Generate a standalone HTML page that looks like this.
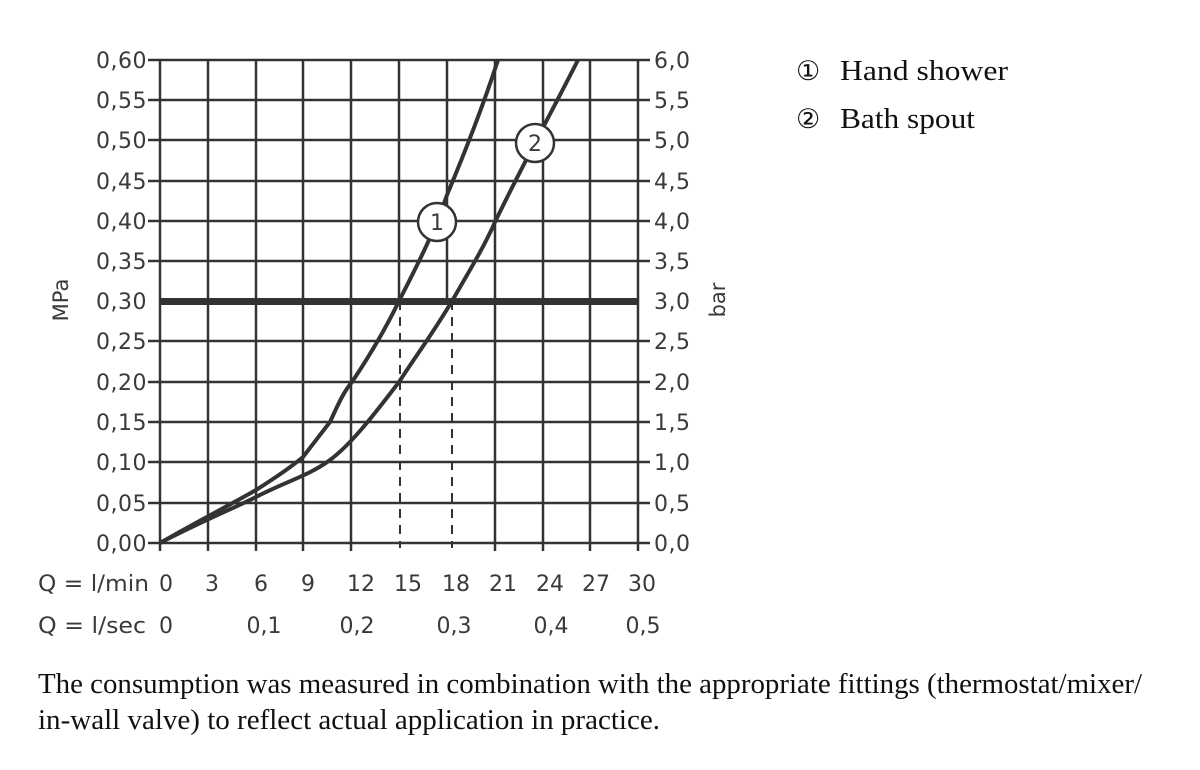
<!DOCTYPE html>
<html><head><meta charset="utf-8"><style>
body{margin:0;background:#fff;width:1200px;height:765px;overflow:hidden}
svg text{font-family:"DejaVu Sans","Liberation Sans",sans-serif;fill:#3a3a3a}
.s{font-family:"Liberation Serif",serif;fill:#111}
</style></head><body>
<svg width="1200" height="765" viewBox="0 0 1200 765">
<g stroke="#333" stroke-width="2.5" fill="none">
<path d="M148 60H650M148 100H650M148 140H650M148 181H650M148 221H650M148 261H650M148 341H650M148 382H650M148 422H650M148 462H650M148 503H650M148 543H650"/>
<path d="M160 60V551M208 60V551M256 60V551M303 60V551M351 60V551M399 60V301M447 60V301M495 60V551M543 60V551M590 60V551M638 60V551"/>
<path d="M400 301V548M452 301V548" stroke-dasharray="9,7" stroke-width="2"/>
<path d="M160 301.5H638" stroke-width="7"/>
<g stroke-width="4">
<path d="M160 543 C200 520 230 505 256 490 C275 478 290 468 303 457 L330 422 C340 400 345 390 352 382 C370 355 385 330 399 301 C420 260 435 230 447 195 C470 140 485 100 498 60"/>
<path d="M160 543 C200 522 230 510 256 497 C285 482 310 475 330 460 C350 445 370 420 399 382 C420 350 435 330 452 301 C470 270 485 245 495 222 C520 170 550 115 578 60"/>
</g>
</g>
<circle cx="437" cy="222" r="19" fill="#fff" stroke="#333" stroke-width="2.5"/>
<text x="437" y="230" font-size="22" text-anchor="middle">1</text>
<circle cx="535" cy="143" r="19" fill="#fff" stroke="#333" stroke-width="2.5"/>
<text x="535" y="151" font-size="22" text-anchor="middle">2</text>
<g font-size="22" text-anchor="end" letter-spacing="0.5">
<text x="147" y="68">0,60</text><text x="147" y="108">0,55</text><text x="147" y="148">0,50</text><text x="147" y="189">0,45</text><text x="147" y="229">0,40</text><text x="147" y="269">0,35</text><text x="147" y="309">0,30</text><text x="147" y="349">0,25</text><text x="147" y="390">0,20</text><text x="147" y="430">0,15</text><text x="147" y="470">0,10</text><text x="147" y="511">0,05</text><text x="147" y="551">0,00</text>
</g>
<g font-size="22" letter-spacing="0.5">
<text x="654" y="68">6,0</text><text x="654" y="108">5,5</text><text x="654" y="148">5,0</text><text x="654" y="189">4,5</text><text x="654" y="229">4,0</text><text x="654" y="269">3,5</text><text x="654" y="309">3,0</text><text x="654" y="349">2,5</text><text x="654" y="390">2,0</text><text x="654" y="430">1,5</text><text x="654" y="470">1,0</text><text x="654" y="511">0,5</text><text x="654" y="551">0,0</text>
</g>
<text transform="translate(68,300) rotate(-90)" font-size="21" text-anchor="middle">MPa</text>
<text transform="translate(725,300) rotate(-90)" font-size="21" text-anchor="middle">bar</text>
<text x="38" y="591" font-size="22" textLength="111" lengthAdjust="spacingAndGlyphs">Q = l/min</text>
<text x="38" y="633" font-size="22" textLength="108" lengthAdjust="spacingAndGlyphs">Q = l/sec</text>
<g font-size="22" text-anchor="middle">
<text x="166" y="591">0</text><text x="212" y="591">3</text><text x="261" y="591">6</text><text x="308" y="591">9</text><text x="361" y="591">12</text><text x="408" y="591">15</text><text x="456" y="591">18</text><text x="503" y="591">21</text><text x="550" y="591">24</text><text x="596" y="591">27</text><text x="642" y="591">30</text>
<text x="166" y="633">0</text><text x="264" y="633">0,1</text><text x="357" y="633">0,2</text><text x="454" y="633">0,3</text><text x="551" y="633">0,4</text><text x="643" y="633">0,5</text>
</g>
<text class="s" x="796" y="80" font-size="27">①</text>
<text class="s" x="840" y="80" font-size="28" textLength="168" lengthAdjust="spacingAndGlyphs">Hand shower</text>
<text class="s" x="796" y="128" font-size="27">②</text>
<text class="s" x="840" y="128" font-size="28" textLength="135" lengthAdjust="spacingAndGlyphs">Bath spout</text>
<text class="s" x="38" y="693" font-size="28" textLength="1104" lengthAdjust="spacingAndGlyphs">The consumption was measured in combination with the appropriate fittings (thermostat/mixer/</text>
<text class="s" x="38" y="729" font-size="28" textLength="622" lengthAdjust="spacingAndGlyphs">in-wall valve) to reflect actual application in practice.</text>
</svg>
</body></html>
